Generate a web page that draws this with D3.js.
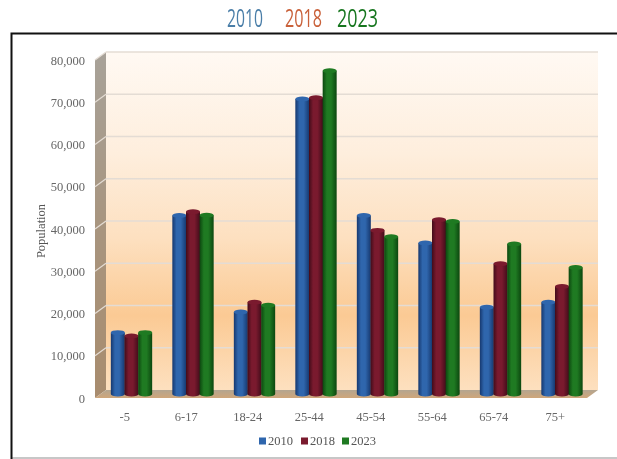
<!DOCTYPE html>
<html><head><meta charset="utf-8">
<script src="https://cdn.jsdelivr.net/npm/d3@7"></script>
<style>html,body{margin:0;padding:0;background:#fff;overflow:hidden}svg{display:block;filter:blur(.35px)}</style>
</head><body><svg id="c" width="617" height="459"></svg>
<script>
const categories = ["-5","6-17","18-24","25-44","45-54","55-64","65-74","75+"];
const years = ["2010","2018","2023"];
const v2010 = [15000,42700,19900,70300,42700,36200,21000,22200];
const v2018 = [14200,43600,22200,70600,39200,41700,31300,25900];
const v2023 = [15000,42800,21500,77000,37700,41300,36000,30400];
const seriesValues = [v2010,v2018,v2023];
const yTicks = [0,10000,20000,30000,40000,50000,60000,70000,80000];
const barColors = [["#16386f","#2f66ad"],["#420c1a","#7a1a2e"],["#0c470f","#1f7a22"]];
const titleColors = ["#4a7ea8","#c9613a","#17761f"];

const svg = d3.select("#c");
const defs = svg.append("defs");
const W0=95,W1=587,dx=11,dy=-8;
const y = d3.scaleLinear().domain([0,80000]).range([398,60]);
const x = d3.scaleBand().domain(categories).range([W0,W1]);
const s = d3.scaleBand().domain(years).range([0,41]);
const barY = v => y(v) - 2;

// frame
svg.append("line").attr("x1",11).attr("x2",617).attr("y1",458).attr("y2",458).attr("stroke","#b5b5b5").attr("stroke-width",1.5);
svg.append("path").attr("d","M11.5,459V33.5H617").attr("fill","none").attr("stroke","#111").attr("stroke-width",2);

// titles
const titleX=[[227,36],[285,37],[337,41]];
svg.selectAll("text.t").data(years).join("text").attr("class","t").text(d=>d)
 .attr("font-family","'Open Sans'").attr("font-weight",400).attr("font-size",25).attr("fill",(d,i)=>titleColors[i])
 .attr("transform",function(d,i){const w=this.getComputedTextLength();return `translate(${titleX[i][0]},27) scale(${titleX[i][1]/w},1)`;});

// gradients
const wall = defs.append("linearGradient").attr("id","wall").attr("x1",0).attr("x2",0).attr("y1",0).attr("y2",1);
[[0,"#fff9f3"],[.3,"#feeedd"],[.55,"#fde0c0"],[.78,"#fbca94"],[1,"#fde0bf"]].forEach(d=>wall.append("stop").attr("offset",d[0]).attr("stop-color",d[1]));
const side = defs.append("linearGradient").attr("id","side").attr("x1",0).attr("x2",0).attr("y1",0).attr("y2",1);
[[0,"#a8a299"],[.5,"#a8957f"],[1,"#a88c6e"]].forEach(d=>side.append("stop").attr("offset",d[0]).attr("stop-color",d[1]));
const floor = defs.append("linearGradient").attr("id","floor").attr("x1",0).attr("x2",0).attr("y1",0).attr("y2",1);
[[0,"#b3a590"],[1,"#cfa67a"]].forEach(d=>floor.append("stop").attr("offset",d[0]).attr("stop-color",d[1]));
barColors.forEach((c,i)=>{
 const g=defs.append("linearGradient").attr("id","b"+i);
 [[0,c[0]],[.3,c[1]],[.6,c[1]],[1,c[0]]].forEach(d=>g.append("stop").attr("offset",d[0]).attr("stop-color",d[1]));
});

// walls
const wallTop=y(80000)+dy,wallBot=y(0)+dy;
svg.append("rect").attr("x",W0+dx).attr("y",wallTop).attr("width",W1-W0).attr("height",wallBot-wallTop).attr("fill","url(#wall)");
svg.append("polygon").attr("points",[[W0,y(80000)],[W0+dx,wallTop],[W0+dx,wallBot],[W0,y(0)]].join(" ")).attr("fill","url(#side)");
svg.append("polygon").attr("points",[[W0,y(0)],[W0+dx,wallBot],[W1+dx,wallBot],[W1,y(0)]].join(" ")).attr("fill","url(#floor)");

// gridlines
const grid=svg.append("g");
grid.selectAll("line.g").data(yTicks.slice(1)).join("line").attr("class","g").attr("x1",W0+dx).attr("x2",W1+dx)
 .attr("y1",d=>y(d)+dy).attr("y2",d=>y(d)+dy).attr("stroke","#e4dcd4").attr("stroke-width",1.6);
grid.selectAll("line.d").data(yTicks.slice(1)).join("line").attr("class","d").attr("x1",W0).attr("x2",W0+dx)
 .attr("y1",d=>y(d)).attr("y2",d=>y(d)+dy).attr("stroke","#e4dcd4").attr("stroke-width",1.2);

// axes
const yAxis = d3.axisLeft(y).tickValues(yTicks).tickFormat(d3.format(",")).tickSize(0).tickPadding(10);
const gy=svg.append("g").attr("transform",`translate(${W0},0)`).call(yAxis);
const xAxis = d3.axisBottom(x).tickSize(0).tickPadding(14);
const gx=svg.append("g").attr("transform",`translate(-1,398)`).call(xAxis);
[gy,gx].forEach(g=>{g.select(".domain").remove();
 g.selectAll("text").attr("font-family","'Liberation Serif'").attr("font-size",12.5).attr("fill","#666");});
svg.append("text").text("Population").attr("transform","translate(45,231) rotate(-90)").attr("text-anchor","middle")
 .attr("font-family","'Liberation Serif'").attr("font-size",12.5).attr("fill","#555");

// bars
const r=7, ry=2.5;
const bars=svg.append("g");
categories.forEach((c,ci)=>{
 const base=x(c)+x.bandwidth()/2-14.75;
 years.forEach((yr,si)=>{
  const v=seriesValues[si][ci];
  const cx=base+s(yr)+s.bandwidth()/2, t=barY(v), b=y(0)-4;
  const L=cx-r,R=cx+r;
  bars.append("path").attr("d",`M${L},${t}L${L},${b}A${r},${ry} 0 0 0 ${R},${b}L${R},${t}Z`).attr("fill",`url(#b${si})`);
  bars.append("ellipse").attr("cx",cx).attr("cy",t).attr("rx",r).attr("ry",ry).attr("fill",barColors[si][1]);
 });
});

// legend
const legendX=[259,301,342];
const leg=svg.selectAll("g.l").data(years).join("g").attr("class","l").attr("transform",(d,i)=>`translate(${legendX[i]},0)`);
leg.append("rect").attr("y",437.5).attr("width",7).attr("height",7).attr("fill",(d,i)=>barColors[i][1]);
leg.append("text").text(d=>d).attr("x",9).attr("y",445).attr("font-family","'Liberation Serif'").attr("font-size",12.5).attr("fill","#555");
</script></body></html>
